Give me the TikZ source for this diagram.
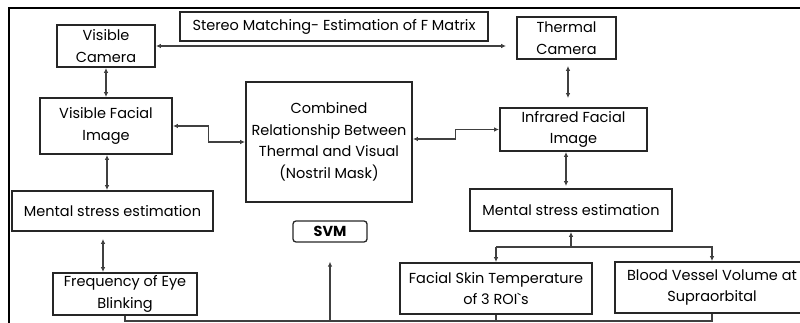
\documentclass[tikz,border=0pt]{standalone}
\usepackage{fontspec}
\setmainfont{Poppins}
\usetikzlibrary{positioning, arrows.meta, calc}

\begin{document}
\begin{tikzpicture}[x=1pt, y=-1pt,
  box/.style={draw=black!85, line width=1.8pt, align=center, inner sep=0pt,
              font=\fontsize{14.5}{21.5}\selectfont},
  link/.style={draw=black!75, line width=1.1pt, {Latex[length=5pt,width=4.5pt]}-{Latex[length=5pt,width=4.5pt]}},
  feed/.style={draw=black!75, line width=1.1pt, -{Latex[length=5pt,width=4.5pt]}},
  wire/.style={draw=black!75, line width=1.1pt}
]
  \useasboundingbox (0,0) rectangle (800,323);

  % Frame
  \draw[line width=1.6pt] (9,323) -- (9,8) -- (800,8);

  % Boxes
  \node[box, minimum width=98, minimum height=42] (viscam) at (106,46) {Visible\\Camera};
  \node[box, minimum width=308, minimum height=29] (stereo) at (334,26.5) {Stereo Matching- Estimation of F Matrix};
  \node[box, minimum width=99, minimum height=42] (thermcam) at (566.5,38) {Thermal\\Camera};
  \node[box, minimum width=132, minimum height=56] (visface) at (106,126) {Visible Facial\\Image};
  \node[box, minimum width=166, minimum height=120] (combined) at (329,142)
    {Combined\\Relationship Between\\Thermal and Visual\\(Nostril Mask)};
  \node[box, minimum width=147, minimum height=43] (irface) at (573.5,129.5) {Infrared Facial\\Image};
  \node[box, minimum width=201, minimum height=40] (mentl) at (112.5,211) {Mental stress estimation};
  \node[box, minimum width=202, minimum height=42] (mentr) at (571,210) {Mental stress estimation};
  \node[box, minimum width=144, minimum height=42] (freq) at (125,294) {Frequency of Eye\\Blinking};
  \node[box, rounded corners=3pt, line width=1.3pt, minimum width=74, minimum height=21,
        font=\fontsize{14.5}{21.5}\selectfont\bfseries] (svm) at (330,231.5) {SVM};
  \node[box, minimum width=192, minimum height=51] (skin) at (496,288.5) {Facial Skin Temperature\\of 3 ROI\textasciigrave s};
  \node[box, minimum width=194, minimum height=51] (blood) at (712,287.5) {Blood Vessel Volume at\\Supraorbital};

  % Joints
  \coordinate (base) at (0,321);
  \coordinate (fork) at (0,247);

  % Connectors
  \draw[link, shorten >=10pt] (viscam.east) -- (viscam.east -| thermcam.west);
  \draw[link] (viscam) -- (visface);
  \draw[link] (visface.east) -- ++(36,0) |- (combined.west);
  \draw[link] (combined.east) ++(0,-3) coordinate (ce) -- ++(43,0) |- (irface.west);
  \draw[link, shorten <=6pt, shorten >=9pt] (thermcam.south) ++(1.5,0) coordinate (tc) -- (tc |- irface.north);
  \draw[link, shorten >=2pt] (irface.south) ++(-7.5,0) coordinate (ir) -- (ir |- mentr.north);
  \draw[link] (visface.south) ++(1,0) coordinate (vf) -- (vf |- mentl.north);
  \draw[link, shorten <=7pt] (mentl.south) ++(-9.5,0) coordinate (ml) -- (ml |- freq.north);

  % Fork to the thermal features
  \draw[feed] (fork -| skin) -- (fork -| blood) -- (blood.north);
  \draw[feed] (fork -| skin) -- (skin.north);
  \draw[feed] (fork -| mentr) -- (mentr.south);

  % Features to SVM
  \draw[wire] (freq.south) -- (base -| freq) -- (base -| blood) -- (blood.south);
  \draw[wire] (skin.south) -- (base -| skin);
  \draw[feed, shorten >=19pt] (base -| svm) -- (svm.south);
\end{tikzpicture}
\end{document}
